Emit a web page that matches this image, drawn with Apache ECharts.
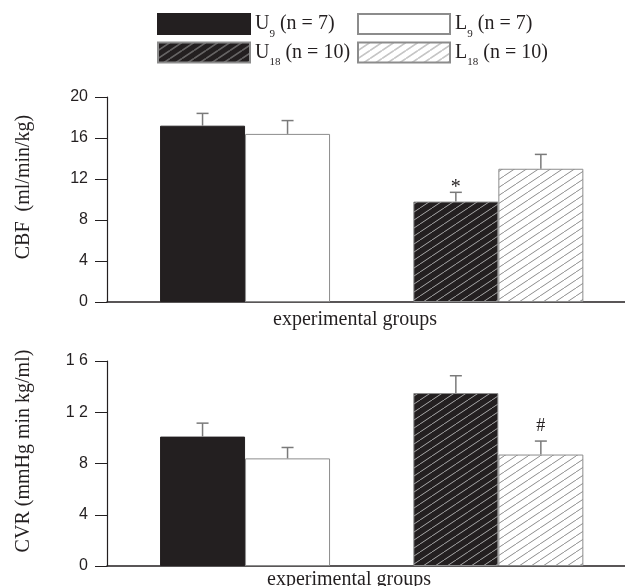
<!DOCTYPE html>
<html>
<head>
<meta charset="utf-8">
<script src="https://cdn.jsdelivr.net/npm/echarts@6/dist/echarts.min.js"></script>
<style>
  html, body { margin: 0; padding: 0; background: #fff; }
  #chart { width: 625px; height: 586px; }
</style>
</head>
<body>
<div id="chart"></div>
<script>
// ---- data ----
const seriesNames = ['U9', 'L9', 'U18', 'L18'];
const nCounts = [7, 7, 10, 10];
const groupOfSeries = [0, 0, 1, 1];   // which experimental group
const sideOfSeries = [0, 1, 0, 1];    // left (U) / right (L) column
const groupX = [1, 2];
const cbfMean = [17.2, 16.4, 9.8, 13.0];
const cbfSem = [1.2, 1.3, 0.9, 1.4];
const cvrMean = [10.1, 8.4, 13.5, 8.7];
const cvrSem = [1.05, 0.85, 1.35, 1.05];
const cbfMarks = ['', '', '*', ''];
const cvrMarks = ['', '', '', '#'];
const cbfTicks = ['0', '4', '8', '12', '16', '20'];
const cvrTicks = ['0', '4', '8', '1 2', '1 6'];

// ---- styles ----
const INK = '#231f20';
const BAR_W = 85;

function hatch(bg, fg) {
  const c = document.createElement('canvas');
  const W = 12, H = 8;
  c.width = W; c.height = H;
  const ctx = c.getContext('2d');
  ctx.fillStyle = bg;
  ctx.fillRect(0, 0, W, H);
  ctx.strokeStyle = fg;
  ctx.lineWidth = 1;
  for (let k = -1; k <= 1; k++) {
    ctx.beginPath();
    ctx.moveTo(k * W, H);
    ctx.lineTo(k * W + W, 0);
    ctx.stroke();
  }
  return { image: c, repeat: 'repeat' };
}

const itemStyles = [
  { color: INK, borderColor: INK, borderWidth: 1 },
  { color: '#ffffff', borderColor: '#8c8c8c', borderWidth: 1 },
  { color: hatch(INK, '#a8a8a8'), borderColor: '#8c8c8c', borderWidth: 1 },
  { color: hatch('#ffffff', '#8c8c8c'), borderColor: '#8c8c8c', borderWidth: 1 }
];

function legendFormatter(name) {
  const i = seriesNames.indexOf(name);
  return name.replace(/^([UL])(\d+)$/, '$1{sub|$2}') + ' (n = ' + nCounts[i] + ')';
}

function makeLegend(names, left, top) {
  return {
    data: names,
    orient: 'vertical',
    left: left,
    top: top,
    padding: 0,
    itemGap: 2,
    itemWidth: 92,
    itemHeight: 20,
    icon: 'rect',
    selectedMode: false,
    textStyle: {
      fontFamily: 'Liberation Serif',
      fontSize: 20,
      color: INK,
      rich: {
        sub: { fontSize: 11, fontFamily: 'Liberation Serif', color: INK, padding: [20, 0, 0, 0], verticalAlign: 'bottom' }
      }
    },
    formatter: legendFormatter
  };
}

function panelSeries(p, means, sems, marks) {
  const out = seriesNames.map((name, i) => ({
    type: 'bar',
    name: name,
    xAxisIndex: p,
    yAxisIndex: p,
    stack: 'p' + p + 's' + sideOfSeries[i],
    barWidth: BAR_W,
    barGap: '0%',
    itemStyle: itemStyles[i],
    emphasis: { disabled: true },
    data: groupX.map((gx, gi) => [gx, gi === groupOfSeries[i] ? means[i] : '-'])
  }));
  out.push({
    type: 'custom',
    name: 'err' + p,
    xAxisIndex: p,
    yAxisIndex: p,
    clip: false,
    z: 5,
    data: seriesNames.map((n, i) => [groupX[groupOfSeries[i]], means[i], means[i] + sems[i]]),
    renderItem: function (params, api) {
      const i = params.dataIndex;
      const base = api.coord([api.value(0), api.value(1)]);
      const top = api.coord([api.value(0), api.value(2)]);
      const x = base[0] + (sideOfSeries[i] ? 1 : -1) * BAR_W / 2;
      const st = { stroke: '#7a7a7a', lineWidth: 1.5 };
      const children = [
        { type: 'line', shape: { x1: x, y1: base[1], x2: x, y2: top[1] }, style: st },
        { type: 'line', shape: { x1: x - 6, y1: top[1], x2: x + 6, y2: top[1] }, style: st }
      ];
      const m = marks[i];
      if (m) {
        children.push({
          type: 'text',
          style: {
            text: m, x: x, y: top[1] + (m === '*' ? 5 : -6),
            align: 'center', verticalAlign: 'bottom',
            fontFamily: 'Liberation Serif', fontSize: m === '*' ? 20 : 18, fill: INK
          }
        });
      }
      return { type: 'group', children: children };
    }
  });
  return out;
}

function xAxisCfg(p, padRight, gap) {
  return {
    type: 'value', gridIndex: p, min: 0.455, max: 2.5,
    axisLine: { show: true, lineStyle: { color: INK, width: 1.5 } },
    axisTick: { show: false }, axisLabel: { show: false }, splitLine: { show: false },
    name: 'experimental groups', nameLocation: 'middle', nameGap: gap,
    nameTextStyle: { fontFamily: 'Liberation Serif', fontSize: 20, color: INK, padding: [0, padRight, 0, 0] }
  };
}

function yAxisCfg(p, max, ticks, name) {
  return {
    type: 'value', gridIndex: p, min: 0, max: max, interval: 4,
    axisLine: { show: true, lineStyle: { color: INK, width: 1.2 } },
    axisTick: { show: true, length: 12, lineStyle: { color: INK, width: 1 } },
    splitLine: { show: false },
    axisLabel: {
      margin: 19, fontFamily: 'Liberation Sans', fontSize: 16, color: INK,
      formatter: v => ticks[Math.round(v / 4)]
    },
    name: name, nameLocation: 'middle', nameGap: 73, nameRotate: 90,
    nameTextStyle: { fontFamily: 'Liberation Serif', fontSize: 20, color: INK, padding: [0, 0, 0, 25] }
  };
}

const chart = echarts.init(document.getElementById('chart'), null, { renderer: 'canvas' });
chart.setOption({
  animation: false,
  backgroundColor: '#fff',
  legend: [
    makeLegend(['U9', 'U18'], 157, 13),
    makeLegend(['L9', 'L18'], 357, 13)
  ],
  grid: [
    { left: 107, right: 0, top: 97, height: 205, outerBoundsMode: 'none', containLabel: false },
    { left: 107, right: 0, top: 361, height: 205, outerBoundsMode: 'none', containLabel: false }
  ],
  xAxis: [xAxisCfg(0, 22, 8), xAxisCfg(1, 34, 4)],
  yAxis: [
    yAxisCfg(0, 20, cbfTicks, 'CBF  (ml/min/kg)'),
    yAxisCfg(1, 16, cvrTicks, 'CVR (mmHg min kg/ml)')
  ],
  series: panelSeries(0, cbfMean, cbfSem, cbfMarks).concat(panelSeries(1, cvrMean, cvrSem, cvrMarks))
});
</script>
</body>
</html>
